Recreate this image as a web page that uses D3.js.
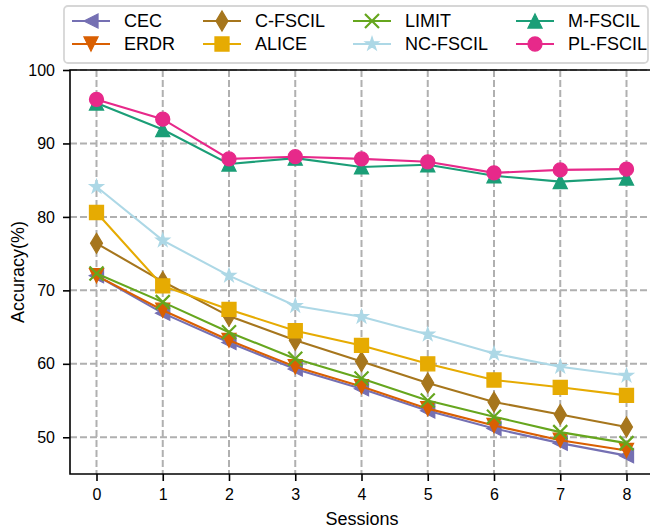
<!DOCTYPE html>
<html>
<head>
<meta charset="utf-8">
<script src="https://cdn.jsdelivr.net/npm/d3@7"></script>
<style>
  body { margin: 0; background: #fff; }
  svg { font-family: "Liberation Sans", Arial, sans-serif; }
</style>
</head>
<body>
<svg id="chart" width="650" height="529"></svg>
<script>
const sessions = [0, 1, 2, 3, 4, 5, 6, 7, 8];
const yTicks = [50, 60, 70, 80, 90, 100];

const cec = [72.0, 66.9, 62.9, 59.3, 56.6, 53.6, 51.2, 49.2, 47.5];
const erdr = [72.0, 67.3, 63.2, 59.6, 56.9, 53.9, 51.6, 49.6, 48.2];
const cFscil = [76.4, 71.2, 66.5, 63.2, 60.3, 57.4, 54.8, 53.1, 51.4];
const alice = [80.6, 70.6, 67.4, 64.5, 62.5, 60.0, 57.8, 56.8, 55.7];
const limit = [72.3, 68.4, 64.3, 60.7, 58.0, 55.0, 52.8, 50.7, 49.2];
const ncFscil = [84.1, 76.8, 72.0, 67.9, 66.4, 64.0, 61.4, 59.6, 58.4];
const mFscil = [95.5, 91.9, 87.2, 88.0, 86.8, 87.1, 85.6, 84.8, 85.3];
const plFscil = [96.0, 93.3, 87.9, 88.2, 87.9, 87.5, 86.0, 86.4, 86.5];

const series = [
  { name: 'CEC', values: cec, color: '#7570b3', marker: 'left' },
  { name: 'ERDR', values: erdr, color: '#d95f02', marker: 'down' },
  { name: 'C-FSCIL', values: cFscil, color: '#a6761d', marker: 'thindiamond' },
  { name: 'ALICE', values: alice, color: '#e6ab02', marker: 'square' },
  { name: 'LIMIT', values: limit, color: '#66a61e', marker: 'x' },
  { name: 'NC-FSCIL', values: ncFscil, color: '#add8e6', marker: 'star' },
  { name: 'M-FSCIL', values: mFscil, color: '#1b9e77', marker: 'up' },
  { name: 'PL-FSCIL', values: plFscil, color: '#e7298a', marker: 'circle' }
];

const svg = d3.select('#chart');
const margin = { left: 70, top: 70, bottom: 474 };
const x = d3.scaleLinear().domain([-0.4, 8.4]).range([70, 653]);
const y = d3.scaleLinear().domain([45, 100]).range([474, 70]);
const ms = 14;

// marker shapes, centred on 0,0 (matplotlib-like)
function markerPath(type, m) {
  const h = m / 2;
  switch (type) {
    case 'circle': return d3.symbol(d3.symbolCircle, Math.PI * h * h)();
    case 'square': return `M${-h},${-h}H${h}V${h}H${-h}Z`;
    case 'up': return `M0,${-h}L${h},${h}L${-h},${h}Z`;
    case 'down': return `M0,${h}L${h},${-h}L${-h},${-h}Z`;
    case 'left': return `M${-h},0L${h},${-h}L${h},${h}Z`;
    case 'thindiamond': {
      const d = m * 0.707;
      return `M0,${-d}L${d * 0.6},0L0,${d}L${-d * 0.6},0Z`;
    }
    case 'x': return `M${-h},${-h}L${h},${h}M${-h},${h}L${h},${-h}`;
    case 'star': {
      const pts = [];
      for (let i = 0; i < 10; i++) {
        const r = i % 2 === 0 ? h : h * 0.382;
        const a = -Math.PI / 2 + i * Math.PI / 5;
        pts.push([r * Math.cos(a), r * Math.sin(a)]);
      }
      return 'M' + pts.map(p => p.join(',')).join('L') + 'Z';
    }
  }
}

function drawMarker(g, s, cx, cy) {
  const p = g.append('path')
    .attr('d', markerPath(s.marker, ms))
    .attr('transform', `translate(${cx},${cy})`);
  if (s.marker === 'x') {
    p.attr('fill', 'none').attr('stroke', s.color).attr('stroke-width', 2.2);
  } else {
    p.attr('fill', s.color).attr('stroke', s.color).attr('stroke-width', 1.3);
  }
}

// grid
const grid = svg.append('g');
grid.selectAll('line.v').data(sessions).enter().append('line')
  .attr('x1', d => x(d)).attr('x2', d => x(d))
  .attr('y1', 70).attr('y2', 474);
grid.selectAll('line.h').data(yTicks).enter().append('line')
  .attr('x1', 70).attr('x2', 653)
  .attr('y1', d => y(d)).attr('y2', d => y(d));
grid.selectAll('line')
  .attr('stroke', '#b0b0b0').attr('stroke-width', 2).attr('stroke-dasharray', '7,3');

// series
const line = d3.line().x((d, i) => x(sessions[i])).y(d => y(d));
series.forEach(s => {
  const g = svg.append('g');
  g.append('path').datum(s.values)
    .attr('d', line).attr('fill', 'none')
    .attr('stroke', s.color).attr('stroke-width', 2.1);
  s.values.forEach((v, i) => drawMarker(g, s, x(sessions[i]), y(v)));
});

// axes
const xAxis = svg.append('g').attr('transform', 'translate(0,474)')
  .call(d3.axisBottom(x).tickValues(sessions).tickSize(7).tickPadding(8).tickSizeOuter(0));
const yAxis = svg.append('g').attr('transform', 'translate(70,0)')
  .call(d3.axisLeft(y).tickValues(yTicks).tickSize(7).tickPadding(8).tickSizeOuter(0));
[xAxis, yAxis].forEach(a => {
  a.select('.domain').remove();
  a.selectAll('line').attr('stroke', '#000').attr('stroke-width', 1.6);
  a.selectAll('text').attr('font-size', 16).attr('fill', '#000')
    .attr('font-family', '"Liberation Sans", Arial, sans-serif');
});
// spines
svg.append('path')
  .attr('d', 'M653,70H70V474H653')
  .attr('fill', 'none').attr('stroke', '#000').attr('stroke-width', 1.6);

svg.append('text')
  .attr('x', 362).attr('y', 525)
  .attr('text-anchor', 'middle').attr('font-size', 18)
  .text('Sessions');
svg.append('text')
  .attr('transform', 'translate(24,272) rotate(-90)')
  .attr('text-anchor', 'middle').attr('font-size', 18)
  .text('Accuracy(%)');

// legend
const legend = svg.append('g');
legend.append('rect')
  .attr('x', 64).attr('y', 6).attr('width', 584).attr('height', 57)
  .attr('rx', 4).attr('fill', 'rgba(255,255,255,0.85)')
  .attr('stroke', '#d6d6d6').attr('stroke-width', 1.8);
const colX = [72, 203, 353, 516];
const rowY = [21, 44];
series.forEach((s, i) => {
  const cx = colX[Math.floor(i / 2)];
  const cy = rowY[i % 2];
  const g = legend.append('g');
  g.append('line')
    .attr('x1', cx).attr('x2', cx + 38).attr('y1', cy).attr('y2', cy)
    .attr('stroke', s.color).attr('stroke-width', 2.1);
  drawMarker(g, s, cx + 19, cy);
  g.append('text')
    .attr('x', cx + 52).attr('y', cy).attr('dy', '0.35em')
    .attr('font-size', 18).text(s.name);
});
</script>
</body>
</html>
